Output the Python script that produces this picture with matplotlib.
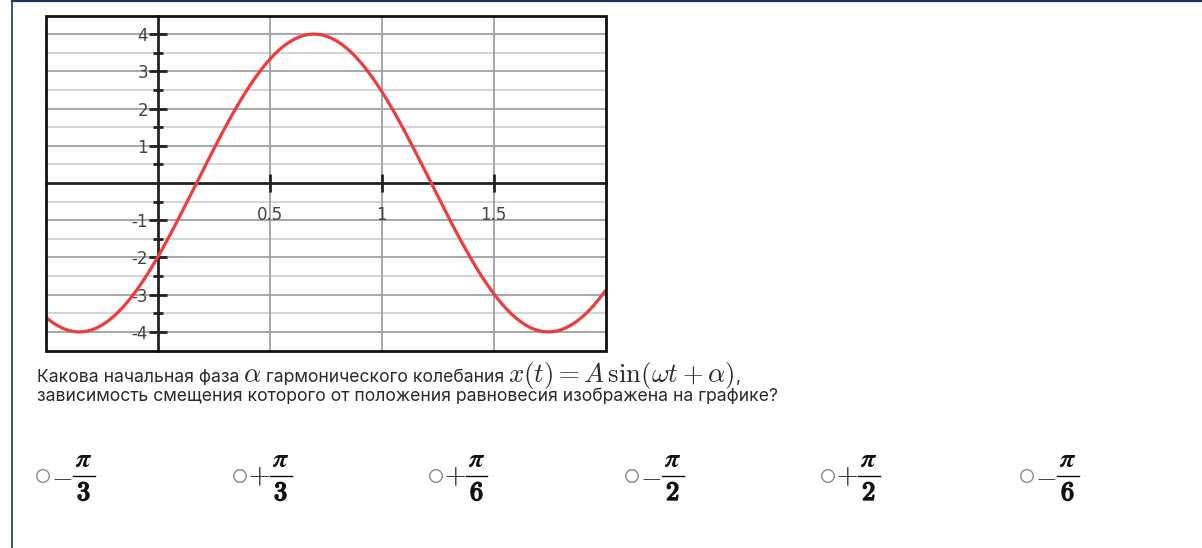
import numpy as np
import matplotlib
matplotlib.use("Agg")
import matplotlib.pyplot as plt
import matplotlib.patheffects as pe
from matplotlib.patches import Circle, Rectangle
from matplotlib.lines import Line2D
from matplotlib.ticker import FixedLocator, FixedFormatter

plt.rcParams['mathtext.fontset'] = 'cm'

# ---- data ----
amplitude = 4.0          # peak value of the curve
omega = 3.0              # angular frequency (period ~2.09)
phase = -np.pi / 6       # x(0) = -2, rising
t_range = [-0.5, 2.0]
y_range = [-4.5, 4.5]
x_ticks = [0.5, 1.0, 1.5]
x_tick_labels = ['0.5', '1', '1.5']
y_ticks = [-4, -3, -2, -1, 1, 2, 3, 4]
y_tick_labels = ['-4', '-3', '-2', '-1', '1', '2', '3', '4']
y_minor_ticks = [-3.5, -2.5, -1.5, -0.5, 0.5, 1.5, 2.5, 3.5]

question_1a = 'Какова начальная фаза '
question_1b = r'$\alpha$'
question_1c = ' гармонического колебания '
question_1d = r'$x(t) = A\,\sin(\omega t + \alpha)$'
question_1e = ','
question_2 = 'зависимость смещения которого от положения равновесия изображена на графике?'
option_signs = ['-', '+', '+', '-', '+', '-']
option_denoms = ['3', '3', '6', '2', '2', '6']

W, H = 1202, 548
DPI = 100
fig = plt.figure(figsize=(W / DPI, H / DPI), dpi=DPI)
fig.patch.set_facecolor('white')

def fx(px):
    return px / W

def fy(py):
    return 1 - py / H

# page border lines
fig.add_artist(Line2D([fx(12), 1], [fy(1), fy(1)], transform=fig.transFigure,
                      color='#1d3a5c', lw=1.6))
fig.add_artist(Line2D([fx(12), fx(12)], [0, fy(1)], transform=fig.transFigure,
                      color='#1d3a5c', lw=1.2))

# ---- plot ----
left, right, top, bottom = 45.5, 605.5, 15.5, 350.5
ax = fig.add_axes([fx(left), fy(bottom), fx(right) - fx(left), fy(top) - fy(bottom)])
ax.set_xlim(*t_range)
ax.set_ylim(*y_range)

# grid
for v in np.arange(-4.0, 4.01, 0.5):
    if v == 0:
        continue
    col = '#a0a0a0' if float(v).is_integer() else '#d2d2d2'
    ax.axhline(v, color=col, lw=1.3, zorder=1)
for v in x_ticks:
    ax.axvline(v, color='#a0a0a0', lw=1.3, zorder=1)

t = np.linspace(t_range[0], t_range[1], 800)
ax.plot(t, amplitude * np.sin(omega * t + phase), color='#ef3b3b', lw=2.3,
        zorder=5, solid_capstyle='round')

for s in ['top', 'right']:
    ax.spines[s].set_visible(False)
ax.spines['left'].set_position(('data', 0))
ax.spines['bottom'].set_position(('data', 0))
for s in ['left', 'bottom']:
    ax.spines[s].set_color('#222222')
    ax.spines[s].set_linewidth(2.0)
    ax.spines[s].set_zorder(3)

ax.xaxis.set_major_locator(FixedLocator(x_ticks))
ax.xaxis.set_major_formatter(FixedFormatter(x_tick_labels))
ax.yaxis.set_major_locator(FixedLocator(y_ticks))
ax.yaxis.set_major_formatter(FixedFormatter(y_tick_labels))
ax.yaxis.set_minor_locator(FixedLocator(y_minor_ticks))
ax.tick_params(axis='both', which='major', direction='inout', length=12.5,
               width=2.0, color='#222222', labelsize=12, labelcolor='#444444')
ax.tick_params(axis='y', which='major', pad=0.5)
ax.tick_params(axis='x', which='major', pad=10.5)
ax.tick_params(axis='y', which='minor', direction='inout', length=6.5,
               width=2.0, color='#222222')

ax.add_patch(Rectangle((0, 0), 1, 1, transform=ax.transAxes, fill=False,
                       lw=2.0, edgecolor='#111111', clip_on=False, zorder=6))

# ---- question text ----
renderer = fig.canvas.get_renderer()
txt_color = '#2a2a2a'
text_font = ['Inter', 'DejaVu Sans']

def place(x_px, y_px, s, size, **kw):
    tx = fig.text(fx(x_px), fy(y_px), s, fontsize=size, va='baseline', ha='left',
                  color=txt_color, **kw)
    bb = tx.get_window_extent(renderer=renderer)
    return tx, bb.x1

def fit_size(s, target_w, base=12, **kw):
    tx = fig.text(0, 0, s, fontsize=base, **kw)
    w = tx.get_window_extent(renderer=renderer).width
    tx.remove()
    return base * target_w / w

body_size = fit_size(question_2, 741, family=text_font)
math_size = fit_size(question_1d, 228)

x0 = 37
place(x0, 382, question_1a, body_size, family=text_font)
place(243, 382, question_1b, math_size)
place(261, 382, question_1c, body_size, family=text_font)
_, xe = place(508, 382, question_1d, math_size)
place(xe + 1, 382, question_1e, body_size, family=text_font)
place(x0, 401, question_2, body_size, family=text_font)

# ---- answer options ----
opt_x = [43, 240, 436, 632, 828, 1027]
opt_y = 476
frac_size = 19
bold = [pe.withStroke(linewidth=1.1, foreground='#111111')]
for cx, sgn, den in zip(opt_x, option_signs, option_denoms):
    fig.add_artist(Circle((cx / DPI, (H - opt_y) / DPI), 6.3 / DPI,
                          transform=fig.dpi_scale_trans, fill=False,
                          edgecolor='#8a8a8a', lw=1.0))
    fig.text(fx(cx + 8), fy(opt_y), '$' + sgn + '$', fontsize=20,
             va='center', ha='left', color='#111111')
    # fraction: numerator, bar, denominator
    fig.text(fx(cx + 41), fy(460), r'$\boldsymbol{\pi}$', fontsize=frac_size,
             va='center', ha='center', color='#111111')
    fig.add_artist(Line2D([fx(cx + 30), fx(cx + 51.5)], [fy(opt_y), fy(opt_y)],
                          transform=fig.transFigure, color='#111111', lw=1.0))
    fig.text(fx(cx + 41), fy(500), r'$\mathbf{' + den + '}$', fontsize=frac_size,
             va='baseline', ha='center', color='#111111', path_effects=bold)

fig.savefig('out.png', dpi=DPI, facecolor='white')
